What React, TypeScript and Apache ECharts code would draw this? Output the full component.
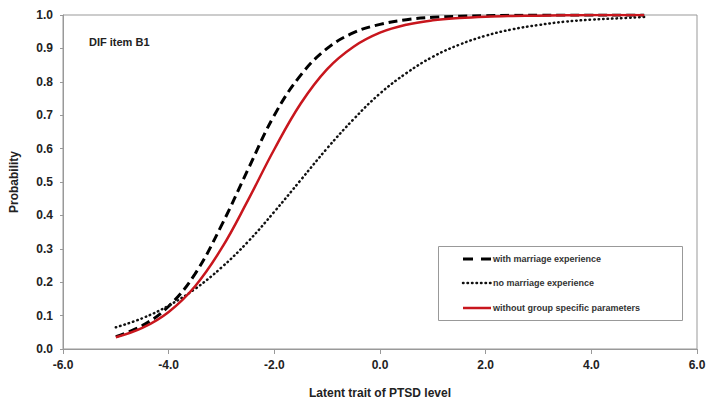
import React, { useEffect, useRef } from "react";
import * as echarts from "echarts";

const xs = [-5, -4.5, -4, -3.5, -3, -2.5, -2, -1.5, -1, -0.5, 0, 0.5, 1, 1.5, 2, 2.5, 3, 3.5, 4, 4.5, 5];
const withMarriage = [0.037, 0.07, 0.128, 0.225, 0.37, 0.537, 0.70, 0.82, 0.90, 0.947, 0.972, 0.986, 0.993, 0.996, 0.998, 0.999, 1.0, 1.0, 1.0, 1.0, 1.0];
const noMarriage = [0.065, 0.092, 0.13, 0.18, 0.244, 0.321, 0.411, 0.506, 0.601, 0.688, 0.765, 0.826, 0.875, 0.911, 0.938, 0.957, 0.97, 0.98, 0.986, 0.99, 0.994];
const withoutGroup = [0.035, 0.063, 0.111, 0.188, 0.301, 0.445, 0.598, 0.735, 0.838, 0.905, 0.947, 0.971, 0.984, 0.991, 0.995, 0.997, 0.998, 0.999, 1.0, 1.0, 1.0];
const seriesNames = ["with marriage experience", "no marriage experience", "without group specific parameters"];

const FONT = "Liberation Sans, Arial, sans-serif";
const RED = "#c8161d";

export default function App() {
  const ref = useRef<HTMLDivElement>(null);
  useEffect(() => {
    document.body.style.margin = "0";
    const chart = echarts.init(ref.current!, null, { renderer: "svg" });
    const pairs = (ys: number[]) => xs.map((x, i) => [x, ys[i]]);
    const legendRows = [259, 283, 308];
    const legendStyles = [
      { stroke: "#000", lineWidth: 3, lineDash: [10, 8] },
      { stroke: "#111", lineWidth: 2.5, lineDash: [0.5, 4], lineCap: "round" },
      { stroke: RED, lineWidth: 2.5 },
    ];
    const legendGraphics: any[] = [];
    seriesNames.forEach((name, i) => {
      legendGraphics.push({
        type: "line",
        shape: { x1: 463, y1: legendRows[i], x2: 491, y2: legendRows[i] },
        style: { ...legendStyles[i], fill: "none" },
        z: 100,
      });
      legendGraphics.push({
        type: "text",
        x: 493,
        y: legendRows[i],
        style: {
          text: name,
          fontFamily: FONT,
          fontSize: 9,
          fontWeight: "bold",
          fill: "#333",
          verticalAlign: "middle",
        },
        z: 100,
      });
    });
    chart.setOption({
      animation: false,
      backgroundColor: "#ffffff",
      grid: { left: 62, top: 15, width: 635, height: 334, show: true, borderColor: "#999", borderWidth: 1 },
      title: {
        text: "DIF item B1",
        left: 84,
        top: 31,
        textStyle: { fontFamily: FONT, fontSize: 11, fontWeight: "bold", color: "#222" },
      },
      xAxis: {
        type: "value",
        min: -6,
        max: 6,
        interval: 2,
        name: "Latent trait of PTSD level",
        nameLocation: "middle",
        nameGap: 38,
        nameTextStyle: { fontFamily: FONT, fontSize: 12, fontWeight: "bold", color: "#222" },
        axisLine: { show: true, onZero: false, lineStyle: { color: "#999" } },
        axisTick: { show: true, length: 5, lineStyle: { color: "#999" } },
        splitLine: { show: false },
        axisLabel: {
          formatter: (v: number) => v.toFixed(1),
          fontFamily: FONT,
          fontSize: 12,
          fontWeight: "bold",
          color: "#222",
          margin: 10,
        },
      },
      yAxis: {
        type: "value",
        min: 0,
        max: 1,
        interval: 0.1,
        name: "Probability",
        nameLocation: "middle",
        nameGap: 43,
        nameTextStyle: { fontFamily: FONT, fontSize: 12, fontWeight: "bold", color: "#222" },
        axisLine: { show: true, onZero: false, lineStyle: { color: "#999" } },
        axisTick: { show: true, length: 3, lineStyle: { color: "#999" } },
        splitLine: { show: false },
        axisLabel: {
          formatter: (v: number) => v.toFixed(1),
          fontFamily: FONT,
          fontSize: 12,
          fontWeight: "bold",
          color: "#222",
          margin: 10,
        },
      },
      graphic: [
        {
          type: "rect",
          shape: { x: 438.5, y: 246.5, width: 244, height: 74 },
          style: { fill: "#fff", stroke: "#999", lineWidth: 1 },
          z: 99,
        },
        ...legendGraphics,
      ],
      series: [
        {
          name: seriesNames[0],
          type: "line",
          data: pairs(withMarriage),
          smooth: 0.4,
          symbol: "none",
          lineStyle: { color: "#000", width: 3, type: [9, 5] },
          itemStyle: { color: "#000" },
          z: 2,
        },
        {
          name: seriesNames[1],
          type: "line",
          data: pairs(noMarriage),
          smooth: 0.4,
          symbol: "none",
          lineStyle: { color: "#111", width: 2.5, type: [0.5, 4], cap: "round" },
          itemStyle: { color: "#111" },
          z: 3,
        },
        {
          name: seriesNames[2],
          type: "line",
          data: pairs(withoutGroup),
          smooth: 0.4,
          symbol: "none",
          lineStyle: { color: RED, width: 2.5 },
          itemStyle: { color: RED },
          z: 4,
        },
      ],
    });
    return () => chart.dispose();
  }, []);
  return <div ref={ref} style={{ width: 711, height: 404 }} />;
}
